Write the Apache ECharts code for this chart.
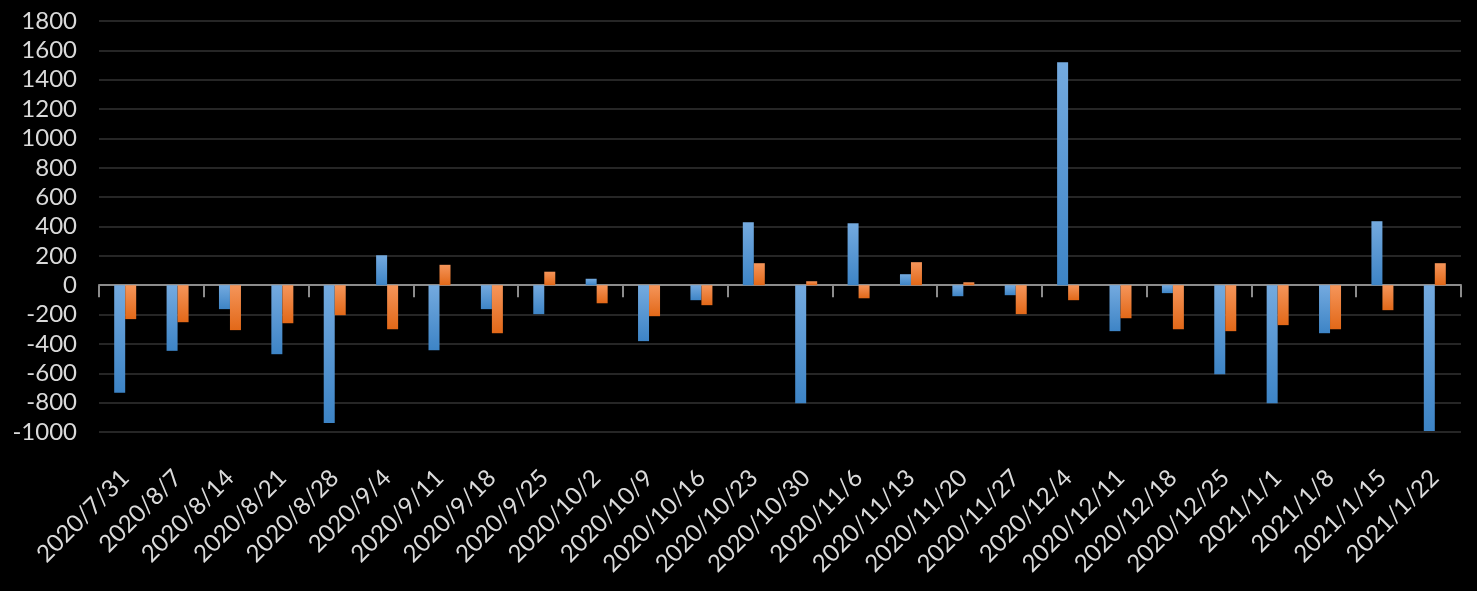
<!DOCTYPE html>
<html>
<head>
<meta charset="utf-8">
<script src="https://cdn.jsdelivr.net/npm/echarts@6/dist/echarts.min.js"></script>
<style>
html,body{margin:0;padding:0;background:#000;}
#chart{width:1477px;height:591px;}
</style>
</head>
<body>
<div id="chart"></div>
<script>
const categories = ['2020/7/31','2020/8/7','2020/8/14','2020/8/21','2020/8/28','2020/9/4','2020/9/11','2020/9/18','2020/9/25','2020/10/2','2020/10/9','2020/10/16','2020/10/23','2020/10/30','2020/11/6','2020/11/13','2020/11/20','2020/11/27','2020/12/4','2020/12/11','2020/12/18','2020/12/25','2021/1/1','2021/1/8','2021/1/15','2021/1/22'];
const seriesBlue = [-733,-447,-163,-470,-938,204,-443,-163,-197,44,-381,-102,429,-804,422,75,-75,-68,1519,-313,-54,-606,-804,-327,436,-994];
const seriesOrange = [-231,-252,-306,-259,-204,-300,139,-327,92,-123,-211,-136,150,27,-89,157,20,-197,-102,-225,-300,-313,-272,-300,-170,150];
const yMin = -1000, yMax = 1800, yStep = 200;

const chart = echarts.init(document.getElementById('chart'));
const fontFamily = 'Lato, "Open Sans", sans-serif';
const labelColor = '#dadada';
function grad(top, bottom){
  return new echarts.graphic.LinearGradient(0,0,0,1,[{offset:0,color:top},{offset:1,color:bottom}]);
}
chart.setOption({
  backgroundColor:'#000',
  animation:false,
  grid:{left:99,right:16,top:21,bottom:159,containLabel:false},
  xAxis:[{
    type:'category',
    data:categories,
    axisLine:{show:true,onZero:true,lineStyle:{color:'#8c8c8c',width:2}},
    axisTick:{show:true,alignWithLabel:false,length:12,lineStyle:{color:'#8c8c8c',width:2}},
    axisLabel:{show:false},
    splitLine:{show:false}
  },{
    type:'category',
    data:categories,
    position:'bottom',
    axisLine:{show:false,onZero:false},
    axisTick:{show:false},
    axisLabel:{show:true,interval:0,rotate:45,margin:42,color:labelColor,fontSize:24,fontFamily:fontFamily},
    splitLine:{show:false}
  }],
  yAxis:{
    type:'value',
    min:yMin,max:yMax,interval:yStep,
    axisLine:{show:false},
    axisTick:{show:false},
    axisLabel:{color:labelColor,fontSize:24,fontFamily:fontFamily,margin:22,formatter:function(v){return String(v);}},
    splitLine:{show:true,lineStyle:{color:'#262626',width:2}}
  },
  series:[{
    type:'bar',
    data:seriesBlue,
    xAxisIndex:0,
    barWidth:11,
    barGap:'0%',
    itemStyle:{color:grad('#74aadf','#3d84c6')}
  },{
    type:'bar',
    data:seriesOrange,
    xAxisIndex:0,
    barWidth:11,
    barGap:'0%',
    itemStyle:{color:grad('#f5955a','#e26818')}
  }]
});
</script>
</body>
</html>
